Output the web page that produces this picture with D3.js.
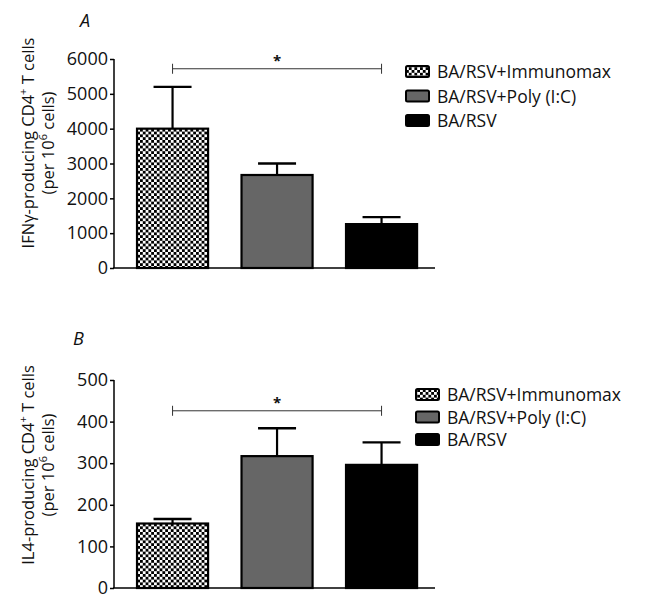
<!DOCTYPE html>
<html>
<head>
<meta charset="utf-8">
<script src="https://cdn.jsdelivr.net/npm/d3@7"></script>
<style>
  body { margin: 0; background: #fff; }
  text { font-family: "Open Sans", sans-serif; fill: #111; }
</style>
</head>
<body>
<svg width="662" height="594"></svg>
<script>
// data
var groups = ['BA/RSV+Immunomax', 'BA/RSV+Poly (I:C)', 'BA/RSV'];
var ifnMean = [4000, 2670, 1260];
var ifnErr = [5200, 3000, 1460];
var il4Mean = [155, 317, 296];
var il4Err = [166, 384, 350];
var ifnTicks = [0, 1000, 2000, 3000, 4000, 5000, 6000];
var il4Ticks = [0, 100, 200, 300, 400, 500];

var fills = ['url(#checker)', '#666666', '#000000'];

var svg = d3.select('svg');

// checker pattern
var defs = svg.append('defs');
var pat = defs.append('pattern')
    .attr('id', 'checker')
    .attr('patternUnits', 'userSpaceOnUse')
    .attr('width', 5.6).attr('height', 5.6);
pat.append('rect').attr('width', 5.6).attr('height', 5.6).attr('fill', '#fff');
pat.append('rect').attr('width', 2.8).attr('height', 2.8).attr('fill', '#000');
pat.append('rect').attr('x', 2.8).attr('y', 2.8).attr('width', 2.8).attr('height', 2.8).attr('fill', '#000');

var scaleX = d3.scaleBand().domain(groups)
    .range([120.3, 433.8]).paddingInner(0.32).paddingOuter(0.16);

function panel(opt) {
    var g = svg.append('g');
    var scaleY = d3.scaleLinear().domain([0, opt.max]).range([opt.y0, opt.y1]);

    // bars
    g.selectAll('rect.bar')
        .data(opt.mean)
        .enter()
        .append('rect')
        .attr('class', 'bar')
        .attr('x', function(d, i){ return scaleX(groups[i]); })
        .attr('y', function(d){ return scaleY(d); })
        .attr('width', scaleX.bandwidth())
        .attr('height', function(d){ return scaleY(0) - scaleY(d); })
        .attr('fill', function(d, i){ return fills[i]; })
        .attr('stroke', '#000')
        .attr('stroke-width', 2.2);

    // error bars
    opt.err.forEach(function(e, i){
        var cx = scaleX(groups[i]) + scaleX.bandwidth() / 2;
        g.append('line')
            .attr('x1', cx).attr('x2', cx)
            .attr('y1', scaleY(opt.mean[i])).attr('y2', scaleY(e))
            .attr('stroke', '#000').attr('stroke-width', 2.2);
        g.append('line')
            .attr('x1', cx - 19).attr('x2', cx + 19)
            .attr('y1', scaleY(e)).attr('y2', scaleY(e))
            .attr('stroke', '#000').attr('stroke-width', 2.4);
    });

    // axes
    var ax = g.append('g')
        .attr('transform', 'translate(114,0)')
        .call(d3.axisLeft(scaleY).tickValues(opt.ticks).tickSize(4).tickPadding(2).tickFormat(d3.format('d')));
    ax.select('.domain').remove();
    ax.selectAll('.tick line').attr('stroke', '#000').attr('stroke-width', 1.5);
    ax.selectAll('.tick text')
        .attr('font-size', 18)
        .attr('font-family', '"Open Sans", sans-serif')
        .attr('fill', '#111');
    g.append('line')
        .attr('x1', 114).attr('x2', 114)
        .attr('y1', scaleY(0)).attr('y2', scaleY(opt.max))
        .attr('stroke', '#000').attr('stroke-width', 1.5);
    g.append('line')
        .attr('x1', 113).attr('x2', 435)
        .attr('y1', scaleY(0)).attr('y2', scaleY(0))
        .attr('stroke', '#000').attr('stroke-width', 1.5);

    // significance bracket
    var bx1 = scaleX(groups[0]) + scaleX.bandwidth() / 2;
    var bx2 = scaleX(groups[2]) + scaleX.bandwidth() / 2;
    var by = scaleY(opt.sig);
    g.append('line').attr('x1', bx1).attr('x2', bx2).attr('y1', by).attr('y2', by)
        .attr('stroke', '#333').attr('stroke-width', 1);
    g.append('line').attr('x1', bx1).attr('x2', bx1).attr('y1', by - 5).attr('y2', by + 5)
        .attr('stroke', '#333').attr('stroke-width', 1);
    g.append('line').attr('x1', bx2).attr('x2', bx2).attr('y1', by - 5).attr('y2', by + 5)
        .attr('stroke', '#333').attr('stroke-width', 1);
    g.append('text')
        .attr('x', (bx1 + bx2) / 2).attr('y', by - 3)
        .attr('text-anchor', 'middle')
        .attr('font-size', 15).attr('font-weight', 'bold')
        .text('*');

    // panel letter
    g.append('text')
        .attr('x', opt.letterX).attr('y', opt.letterY)
        .attr('font-size', 18).attr('font-style', 'italic')
        .text(opt.letter);

    // y label
    var yl = g.append('text')
        .attr('transform', 'translate(34,' + opt.labelY + ') rotate(-90)')
        .attr('text-anchor', 'middle')
        .attr('font-size', 16.5);
    yl.append('tspan').text(opt.label1);
    yl.append('tspan').attr('baseline-shift', 'super').attr('font-size', 11).text('+');
    yl.append('tspan').text(' T cells');

    var yl2 = g.append('text')
        .attr('transform', 'translate(54,' + opt.labelY + ') rotate(-90)')
        .attr('text-anchor', 'middle')
        .attr('font-size', 16.5);
    yl2.append('tspan').text('(per 10');
    yl2.append('tspan').attr('baseline-shift', 'super').attr('font-size', 11).text('6');
    yl2.append('tspan').text(' cells)');

    // legend
    var leg = g.append('g');
    groups.forEach(function(name, i){
        var ly = opt.legY + i * opt.legStep;
        leg.append('rect')
            .attr('x', opt.legX).attr('y', ly - 6)
            .attr('width', 23).attr('height', 11)
            .attr('rx', 1.5)
            .attr('fill', fills[i])
            .attr('stroke', '#000').attr('stroke-width', 2);
        leg.append('text')
            .attr('x', opt.legX + 31).attr('y', ly + 6)
            .attr('font-size', 17.5)
            .text(name);
    });
}

panel({
    mean: ifnMean, err: ifnErr, ticks: ifnTicks, max: 6000,
    y0: 268, y1: 59, sig: 5720,
    letter: 'A', letterX: 80, letterY: 27,
    label1: 'IFNγ-producing CD4', labelY: 143,
    legX: 406, legY: 72, legStep: 24.5
});

panel({
    mean: il4Mean, err: il4Err, ticks: il4Ticks, max: 500,
    y0: 588, y1: 380, sig: 426,
    letter: 'B', letterX: 73, letterY: 345,
    label1: 'IL4-producing CD4', labelY: 465,
    legX: 416, legY: 395, legStep: 22.5
});
</script>
</body>
</html>
